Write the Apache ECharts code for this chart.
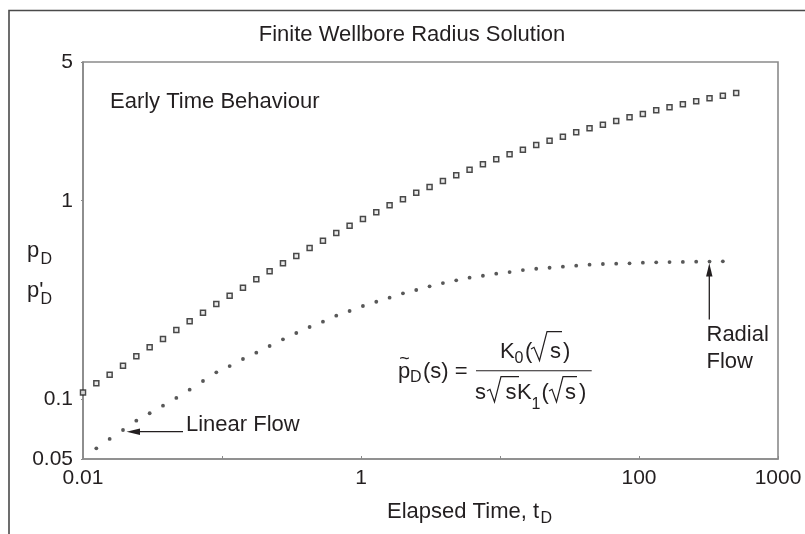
<!DOCTYPE html>
<html>
<head>
<meta charset="utf-8">
<script src="https://cdn.jsdelivr.net/npm/echarts@6/dist/echarts.min.js"></script>
<style>
  html, body { margin: 0; padding: 0; background: #fff; }
  #chart { width: 805px; height: 534px; }
</style>
</head>
<body>
<div id="chart"></div>
<script>
// Dimensionless time, t_D (log-spaced sample times)
const tD = [
  0.01, 0.01247, 0.01555, 0.0194, 0.02419, 0.03017, 0.03762, 0.04692, 0.05852, 0.07298,
  0.091, 0.1135, 0.1415, 0.1765, 0.2201, 0.2745, 0.3423, 0.4269, 0.5324, 0.6639,
  0.8279, 1.0325, 1.288, 1.606, 2.003, 2.497, 3.114, 3.884, 4.843, 6.04,
  7.534, 9.395, 11.72, 14.61, 18.22, 22.73, 28.34, 35.34, 44.08, 54.98,
  68.55, 85.5, 106.6, 133.0, 165.8, 206.8, 257.9, 321.7, 401.1, 500.2
];

// Dimensionless pressure, p_D
const pD = [
  0.1082, 0.1203, 0.133, 0.1476, 0.1646, 0.1827, 0.2011, 0.2233, 0.247, 0.2729,
  0.3019, 0.3324, 0.3648, 0.402, 0.4411, 0.4841, 0.5269, 0.5781, 0.6283, 0.6878,
  0.7487, 0.809, 0.8746, 0.9486, 1.017, 1.098, 1.173, 1.257, 1.343, 1.434,
  1.526, 1.617, 1.714, 1.808, 1.91, 2.007, 2.103, 2.212, 2.317, 2.416,
  2.522, 2.632, 2.735, 2.855, 2.957, 3.061, 3.17, 3.282, 3.382, 3.49
];

// Pressure derivative, p'_D (null where not plotted)
const dpD = [
  null, 0.0566, 0.0631, 0.07, 0.078, 0.085, 0.0928, 0.1015, 0.1117, 0.1236,
  0.1367, 0.147, 0.1595, 0.1716, 0.1855, 0.2004, 0.2156, 0.2312, 0.2458, 0.2636,
  0.2783, 0.2949, 0.3099, 0.3247, 0.3418, 0.3551, 0.3707, 0.385, 0.3973, 0.4095,
  0.419, 0.4289, 0.4374, 0.4476, 0.4545, 0.4598, 0.4652, 0.4706, 0.4761, 0.48,
  0.482, 0.4841, 0.4874, 0.4897, 0.491, 0.492, 0.493, 0.494, 0.495, null
];

// Axis labels shown on the time axis
const xTickLabels = ['0.01', '1', '100', '1000'];

const INK = '#231f20';
const AXIS = '#8a8a8a';
const FONT = '"Liberation Sans", Arial, Helvetica, sans-serif';

const pairs = (xs, ys) => xs.map((x, i) => [x, ys[i]]).filter(p => p[1] != null);

function txt(text, x, y, size, extra) {
  return {
    type: 'text', x: x, y: y, silent: true,
    style: Object.assign({
      text: text, fill: INK, font: size + 'px ' + FONT,
      textAlign: 'left', textVerticalAlign: 'middle'
    }, extra || {})
  };
}
function line(x1, y1, x2, y2, w) {
  return { type: 'line', silent: true, shape: { x1, y1, x2, y2 }, style: { stroke: INK, lineWidth: w || 1.2 } };
}
function poly(points, w) {
  return { type: 'polyline', silent: true, shape: { points }, style: { stroke: INK, lineWidth: w || 1.2, fill: null } };
}
function tri(points) {
  return { type: 'polygon', silent: true, shape: { points }, style: { fill: INK } };
}

const chart = echarts.init(document.getElementById('chart'), null, { renderer: 'canvas' });

chart.setOption({
  backgroundColor: '#ffffff',
  animation: false,
  grid: { left: 83, right: 27, top: 62, bottom: 75, show: true, borderColor: AXIS, borderWidth: 1.6 },
  xAxis: {
    type: 'log', logBase: 10, min: 0.01, max: 1000,
    axisLine: { show: true, lineStyle: { color: AXIS, width: 1.6 } },
    axisTick: { show: true, inside: true, length: 3, lineStyle: { color: AXIS } },
    splitLine: { show: false },
    axisLabel: {
      color: INK, fontSize: 21, fontFamily: FONT, margin: 9,
      formatter: v => {
        const hit = xTickLabels.find(s => Math.abs(v / parseFloat(s) - 1) < 1e-6);
        return hit || '';
      }
    }
  },
  yAxis: {
    type: 'log', logBase: 10, min: 0.05, max: 5,
    axisLine: { show: true, lineStyle: { color: AXIS, width: 1.6 } },
    axisTick: { show: true, length: 2, lineStyle: { color: AXIS } },
    splitLine: { show: false },
    axisLabel: { color: INK, fontSize: 21, fontFamily: FONT, margin: 10 }
  },
  series: [
    {
      name: 'pD', type: 'scatter', data: pairs(tD, pD),
      symbol: 'rect', symbolSize: 5,
      itemStyle: { color: '#e6e6e6', borderColor: '#1e1e1e', borderWidth: 1.5 }
    },
    {
      name: "p'D", type: 'scatter', data: pairs(tD, dpD),
      symbol: 'circle', symbolSize: 3.8,
      itemStyle: { color: '#2e2e2e' }
    }
  ],
  graphic: [
    // figure frame
    { type: 'rect', silent: true, z: -1, shape: { x: 9, y: 10.5, width: 900, height: 600 },
      style: { fill: null, stroke: '#4a4a4a', lineWidth: 1.6 } },
    // title
    txt('Finite Wellbore Radius Solution', 412, 35, 22, { textAlign: 'center' }),
    // vertical axis name: p_D and p'_D
    txt('p', 27, 251, 22),
    txt('D', 40.5, 260, 16),
    txt("p'", 27, 290.5, 22),
    txt('D', 40.5, 300, 16),
    // horizontal axis name
    txt('Elapsed Time, t', 387, 512, 22),
    txt('D', 540.5, 519, 16),
    // annotations
    txt('Early Time Behaviour', 110, 102, 22),
    txt('Linear Flow', 186, 425, 22),
    line(183, 431.7, 136, 431.7, 1.3),
    tri([[126.5, 431.7], [140, 428.5], [140, 434.9]]),
    txt('Radial', 706.5, 335, 22),
    txt('Flow', 706.5, 361.7, 22),
    line(709.3, 319.5, 709.3, 272, 1.3),
    tri([[709.3, 263.3], [706.1, 276.5], [712.5, 276.5]]),
    // Laplace-space solution: p~_D(s) = K0(sqrt s) / (s sqrt s K1(sqrt s))
    txt('~', 404.5, 359.5, 18, { textAlign: 'center' }),
    txt('p', 398, 371.5, 22),
    txt('D', 410, 377.3, 16),
    txt('(s) =', 423, 371.5, 22),
    line(476, 370.7, 591.7, 370.7, 1.1),
    // numerator
    txt('K', 500, 351.7, 22),
    txt('0', 514.5, 358.3, 16),
    txt('(', 525, 351.7, 22),
    poly([[531, 349], [534, 347.3], [539.5, 360.5], [547, 331.7], [562, 331.7]], 1.2),
    txt('s', 550, 351.7, 22),
    txt(')', 563, 351.7, 22),
    // denominator
    txt('s', 475, 393.3, 22),
    poly([[487, 391], [490, 389.3], [494.5, 402], [501, 376.7], [519, 376.7]], 1.2),
    txt('s', 505.5, 393.3, 22),
    txt('K', 517, 393.3, 22),
    txt('1', 531.5, 405, 16),
    txt('(', 541.5, 393.3, 22),
    poly([[549, 391], [552, 389.3], [556.5, 402], [563, 376.7], [577, 376.7]], 1.2),
    txt('s', 565, 393.3, 22),
    txt(')', 579, 393.3, 22)
  ]
});
</script>
</body>
</html>
